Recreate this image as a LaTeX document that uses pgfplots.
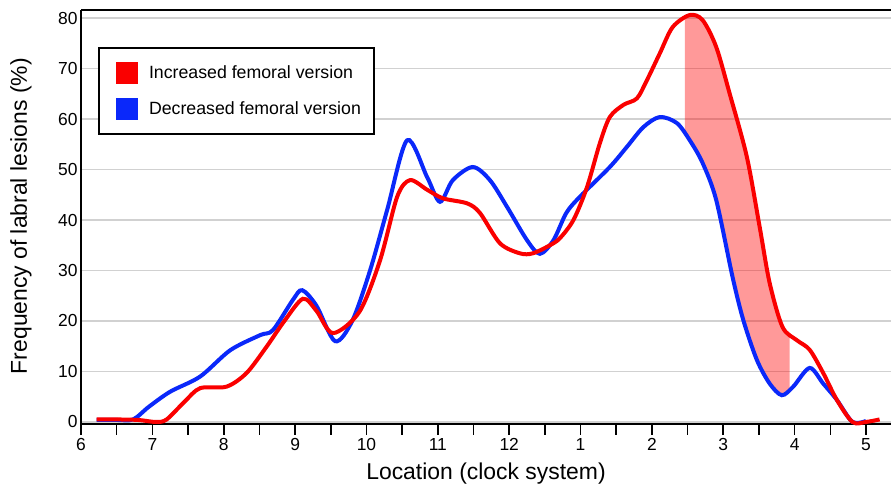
\documentclass[border=0pt]{standalone}
\usepackage{pgfplots}
\pgfplotsset{compat=1.18}
\usepgfplotslibrary{fillbetween}
\usepackage{fontspec}
\setmainfont{Liberation Sans}
\definecolor{cred}{RGB}{250,0,0}
\definecolor{cblue}{RGB}{10,40,250}
\begin{document}
\begin{tikzpicture}
\begin{axis}[
  at={(0,0)}, anchor=south west,
  scale only axis, width=810bp, height=414bp,
  xmin=0, xmax=11.35, ymin=-0.4, ymax=81.6,
  axis lines*=left,
  axis line style={line width=2.2bp, black, -},
  clip=false,
  xtick={0,...,11},
  xticklabels={6,7,8,9,10,11,12,1,2,3,4,5},
  minor xtick={0.5,1.5,...,10.5},
  ytick={0,10,...,80},
  tick align=outside,
  major tick length=11bp, minor tick length=11bp,
  xtick style={black, line width=1.6bp},
  minor tick style={black, line width=1.6bp},
  ytick style={draw=none},
  ymajorgrids=true,
  major grid style={draw=black!18, line width=1.4bp},
  /pgf/number format/assume math mode=true,
  tick label style={font=\fontsize{17.5}{21}\selectfont},
  yticklabel style={xshift=11bp},
  xlabel={Location (clock system)},
  ylabel={Frequency of labral lesions (\%)},
  label style={font=\fontsize{23}{27}\selectfont},
  xlabel style={at={(axis description cs:0.5,-0.133)}, anchor=base},
  ylabel style={at={(axis description cs:-0.0667,0.502)}, anchor=base},
  legend style={at={(axis description cs:0.021,0.9106)}, anchor=north west,
    draw=black, line width=2bp, fill=white, inner xsep=11bp, inner ysep=14bp,
    row sep=14bp, font=\fontsize{17.8}{21}\selectfont, cells={anchor=west},
    nodes={inner xsep=2bp}},
  legend image code/.code={\fill[#1,draw=none] (5bp,-11bp) rectangle (27bp,11bp);\path (0bp,0bp) (35bp,0bp);},
]
\addlegendimage{cred}
\addlegendentry{Increased femoral version}
\addlegendimage{cblue}
\addlegendentry{Decreased femoral version}
\addplot[name path=B, color=cblue, line width=4bp, smooth, tension=0.5, forget plot] coordinates {
(0.22,0.4) (0.5,0.4) (0.73,0.5) (0.95,3) (1.25,6) (1.67,9) (2.09,14.2) (2.51,17.2)
(2.69,18.2) (2.97,24.2) (3.1,26.1) (3.3,23) (3.56,16) (3.8,20) (4.05,30) (4.29,42)
(4.57,55.8) (4.85,48.5) (5.03,43.6) (5.21,47.9) (5.49,50.5) (5.73,47.9) (5.97,42.6)
(6.25,36) (6.43,33.3) (6.62,36) (6.8,41.4) (6.99,44.6) (7.41,50.5) (7.65,54.5)
(7.88,58.4) (8.11,60.4) (8.35,59.2) (8.53,55.8) (8.71,51.3) (8.9,44) (9.13,28.7)
(9.28,20.2) (9.47,12.3) (9.65,7.6) (9.82,5.3) (9.98,7) (10.21,10.7) (10.4,7.6)
(10.59,4.4) (10.81,0) (11.0,0.2)
};
\addplot[name path=R, color=cred, line width=4bp, smooth, tension=0.5, forget plot] coordinates {
(0.22,0.5) (0.5,0.5) (0.8,0.4) (1.05,0) (1.2,0.5) (1.45,4) (1.67,6.7) (2.04,7)
(2.32,9.7) (2.6,14.9) (2.85,20) (3.11,24.4) (3.3,22) (3.53,17.6) (3.9,21.8)
(4.19,32) (4.43,44.6) (4.61,47.9) (4.85,46) (5.07,44.3) (5.41,43.3) (5.59,41.4)
(5.87,35.4) (6.15,33.4) (6.33,33.4) (6.57,35) (6.71,36.4) (6.9,40) (7.09,46.5)
(7.27,55.2) (7.41,60.4) (7.6,62.8) (7.79,64.1) (7.93,67.7) (8.11,73) (8.29,78.2)
(8.53,80.6) (8.71,79.6) (8.9,74.3) (9.09,65) (9.33,52.5) (9.51,38.6) (9.65,27.5)
(9.83,18.8) (10.03,16.2) (10.21,14.3) (10.4,9.7) (10.59,4.4) (10.81,0) (11.0,0)
(11.19,0.5)
};
\addplot[fill=red, fill opacity=0.4, draw=none, forget plot] fill between[of=R and B, soft clip={domain=8.46:9.93}];
\draw[line width=2.2bp, black] (rel axis cs:0,1) -- (rel axis cs:1,1);
\end{axis}
\pgfresetboundingbox
\path ([xshift=-81bp,yshift=-69bp]current axis.south west) rectangle ([yshift=10bp]current axis.north east);
\end{tikzpicture}
\end{document}
